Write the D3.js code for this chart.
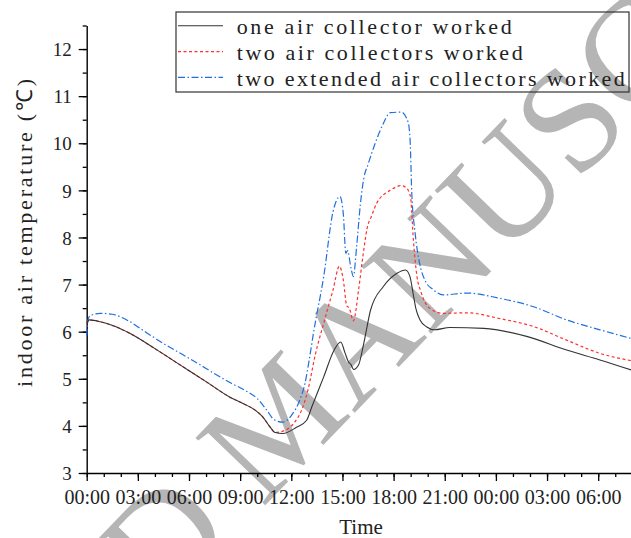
<!DOCTYPE html>
<html><head><meta charset="utf-8">
<script src="https://cdn.jsdelivr.net/npm/d3@7/dist/d3.min.js"></script>
<style>
html,body{margin:0;padding:0;background:#fff;overflow:hidden;}
svg{display:block;}
</style></head>
<body>
<script>
// ---- data ----
const seriesNames = ["one air collector worked","two air collectors worked","two extended air collectors worked"];
const majorHours = [0,3,6,9,12,15,18,21,24,27,30];
const tickLabels = ["00:00","03:00","06:00","09:00","12:00","15:00","18:00","21:00","00:00","03:00","06:00"];
const yTicks = [3,4,5,6,7,8,9,10,11,12];

const hoursOne = [0,0.15,0.8,1.6,2.5,4,5.5,7,8.4,9.2,9.9,10.3,10.75,11.05,11.5,12.3,12.9,13.2,13.9,14.5,14.9,15.15,15.35,15.5,15.65,15.95,16.25,16.65,17.4,18.2,18.7,18.96,19.15,19.3,19.55,19.95,20.4,21.3,23.3,25.8,28.15,30.1,32];
const tempOne  = [6.18,6.25,6.21,6.12,5.97,5.64,5.29,4.94,4.61,4.47,4.33,4.2,3.98,3.86,3.84,3.97,4.12,4.4,5.04,5.6,5.78,5.55,5.36,5.3,5.2,5.3,5.75,6.46,6.96,7.24,7.31,7.17,6.8,6.5,6.25,6.1,6.04,6.09,6.07,5.9,5.61,5.4,5.18];

const hoursTwo = [0,0.15,0.8,1.6,2.5,4,5.5,7,8.4,9.2,9.9,10.3,10.75,11.05,11.6,12.2,12.6,13.0,13.4,13.9,14.45,14.82,15.05,15.25,15.4,15.64,15.95,16.2,16.45,16.7,17.0,17.8,18.45,18.75,18.99,19.16,19.36,19.6,20.1,20.9,22.3,24.2,26.2,28.15,30.1,32];
const tempTwo  = [6.18,6.25,6.21,6.12,5.97,5.64,5.29,4.94,4.61,4.47,4.33,4.2,3.98,3.86,3.9,4.08,4.33,4.8,5.5,6.18,6.89,7.39,7.1,6.55,6.5,6.23,6.9,7.6,8.2,8.45,8.72,9.0,9.1,9.05,8.87,7.95,7.2,6.85,6.5,6.39,6.4,6.28,6.11,5.82,5.54,5.38];

const hoursExt = [0,0.08,0.2,0.8,1.5,2.5,3.5,4.5,5.5,6.5,7.4,8.4,9.4,10.0,10.55,11.0,11.5,12.0,12.5,12.8,13.05,13.3,13.9,14.45,14.85,15.05,15.2,15.3,15.5,15.64,15.83,16.05,16.25,16.5,16.9,17.4,17.8,18.45,18.85,18.97,19.06,19.26,19.5,19.9,20.3,20.9,22.3,24.2,26.2,28.15,30.1,32];
const tempExt  = [5.9,6.25,6.34,6.39,6.37,6.22,5.98,5.75,5.54,5.33,5.13,4.92,4.73,4.58,4.34,4.13,4.08,4.22,4.55,4.9,5.4,5.97,7.17,8.55,8.87,8.5,7.66,7.72,7.35,7.17,7.8,8.7,9.25,9.55,9.98,10.42,10.65,10.66,10.45,10.05,9.0,8.1,7.5,7.05,6.9,6.78,6.82,6.71,6.53,6.25,6.04,5.85];

// ---- chart ----
const W = 631, H = 538;
const svg = d3.select("body").append("svg").attr("width", W).attr("height", H);
const serif = "'Liberation Serif','Times New Roman',serif";

const x = d3.scaleLinear().domain([0, 32]).range([86.7, 632.3]);
const y = d3.scaleLinear().domain([3, 12.5]).range([473, 25.5]);

// watermark (behind)
svg.append("text")
  .attr("transform", "translate(199.5,573.4) rotate(-46)")
  .attr("x", -148 * 4.806)
  .attr("y", 0)
  .attr("font-family", serif)
  .attr("font-size", 148)
  .attr("fill", "#b5b5b5")
  .text("ACCEPTED MANUSCRIPT");

// x axis minor
const gxMinor = svg.append("g").attr("transform", `translate(0,${y(3)})`)
  .call(d3.axisBottom(x).tickValues(d3.range(0, 33, 1)).tickSize(4).tickSizeOuter(0).tickFormat(""));
gxMinor.select(".domain").remove();
gxMinor.selectAll("line").attr("stroke", "#000").attr("stroke-width", 1.3);

const gx = svg.append("g").attr("transform", `translate(0,${y(3)})`)
  .call(d3.axisBottom(x).tickValues(majorHours).tickSize(8).tickSizeOuter(0)
    .tickFormat((d, i) => tickLabels[i]));
gx.select(".domain").attr("stroke", "#000").attr("stroke-width", 1.4);
gx.selectAll("line").attr("stroke", "#000").attr("stroke-width", 1.3);
gx.selectAll("text").attr("font-family", serif).attr("font-size", 20)
  .attr("fill", "#222").attr("dy", null).attr("y", 31);

// y axis
const gyMinor = svg.append("g").attr("transform", `translate(${x(0)},0)`)
  .call(d3.axisLeft(y).tickValues(d3.range(3, 12.51, 0.5)).tickSize(4).tickSizeOuter(0).tickFormat(""));
gyMinor.select(".domain").remove();
gyMinor.selectAll("line").attr("stroke", "#000").attr("stroke-width", 1.3);

const gy = svg.append("g").attr("transform", `translate(${x(0)},0)`)
  .call(d3.axisLeft(y).tickValues(yTicks).tickSize(8).tickSizeOuter(0).tickFormat(d3.format("d")));
gy.select(".domain").attr("stroke", "#000").attr("stroke-width", 1.4);
gy.selectAll("line").attr("stroke", "#000").attr("stroke-width", 1.3);
gy.selectAll("text").attr("font-family", serif).attr("font-size", 19).attr("fill", "#222")
  .attr("x", -15).attr("dy", "0.35em");

// axis titles
svg.append("text").attr("x", 361).attr("y", 534).attr("text-anchor", "middle")
  .attr("font-family", serif).attr("font-size", 21).attr("fill", "#222").text("Time");
svg.append("text").attr("transform", "translate(32,233) rotate(-90)")
  .attr("text-anchor", "middle").attr("font-family", serif).attr("font-size", 22).attr("fill", "#222")
  .attr("textLength", 308).attr("lengthAdjust", "spacing")
  .text("indoor air temperature (℃)");

// lines
const styles = [
  {color: "#333333", dash: null, w: 1.1},
  {color: "#ff3030", dash: "3,2.5", w: 1.2},
  {color: "#1f6fe0", dash: "7,2.5,1.5,2.5", w: 1.2}
];
const datasets = [
  d3.zip(hoursOne, tempOne),
  d3.zip(hoursTwo, tempTwo),
  d3.zip(hoursExt, tempExt)
];
const line = d3.line().x(d => x(d[0])).y(d => y(d[1])).curve(d3.curveMonotoneX);
[2, 1, 0].forEach(i => {
  svg.append("path").datum(datasets[i])
    .attr("fill", "none").attr("stroke", styles[i].color)
    .attr("stroke-width", styles[i].w)
    .attr("stroke-dasharray", styles[i].dash)
    .attr("d", line);
});

// legend
const lg = svg.append("g");
lg.append("rect").attr("x", 176).attr("y", 12).attr("width", 453).attr("height", 80)
  .attr("fill", "none").attr("stroke", "#333").attr("stroke-width", 1.2);
const rowY = [25.7, 51.7, 77.3];
const textLen = [275, 286, 388];
seriesNames.forEach((name, i) => {
  lg.append("line").attr("x1", 178).attr("x2", 223).attr("y1", rowY[i]).attr("y2", rowY[i])
    .attr("stroke", styles[i].color).attr("stroke-width", styles[i].w)
    .attr("stroke-dasharray", styles[i].dash);
  lg.append("text").attr("x", 236.7).attr("y", rowY[i] + 8.5)
    .attr("font-family", serif).attr("font-size", 22).attr("fill", "#222")
    .attr("textLength", textLen[i]).attr("lengthAdjust", "spacing")
    .text(name);
});
</script>
</body></html>
